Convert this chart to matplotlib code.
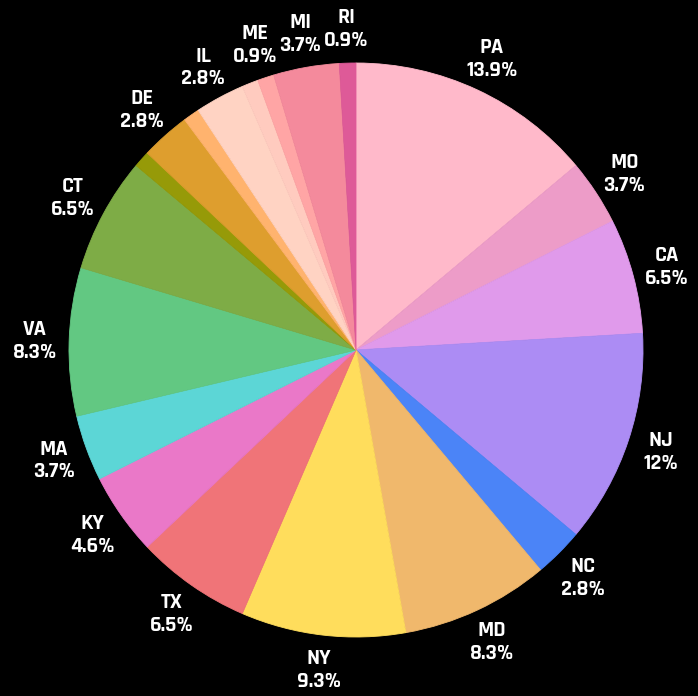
import matplotlib
matplotlib.use("Agg")
import matplotlib.pyplot as plt

states = ["PA", "MO", "CA", "NJ", "NC", "MD", "NY", "TX", "KY", "MA", "VA", "CT",
          "Other A", "DE", "Other B", "IL", "Other C", "ME", "MI", "RI"]
counts = [15, 4, 7, 13, 3, 9, 10, 7, 5, 4, 9, 7, 1, 3, 1, 3, 1, 1, 4, 1]
show_label = [True] * 12 + [False, True, False, True, False, True, True, True]
colors = ["#FFB9CA", "#ED9CC8", "#E09AEB", "#AC8CF4", "#4B84F7", "#F0B86C",
          "#FFDD5C", "#F07478", "#EA78C8", "#5CD6D6", "#62C882", "#7EAC46",
          "#969A08", "#DE9E2E", "#FFB36E", "#FFD3C3", "#FFCBBF", "#FFA5A5",
          "#F48A9C", "#DE5A98"]

total = sum(counts)


def fmt(v):
    p = v / total * 100
    s = f"{p:.1f}"
    if s.endswith(".0"):
        s = s[:-2]
    return s + "%"


labels = [f"{s}\n{fmt(c)}" if sh else "" for s, c, sh in zip(states, counts, show_label)]

fig = plt.figure(figsize=(6.98, 6.96), dpi=100, facecolor="black")
ax = fig.add_axes([0, 0, 1, 1])
ax.set_facecolor("black")

wedges, texts = ax.pie(counts, colors=colors, labels=labels, startangle=90,
                       counterclock=False, labeldistance=1.12,
                       wedgeprops=dict(linewidth=0.6),
                       textprops=dict(color="white", fontsize=16, fontweight="bold",
                                      family=["Rajdhani", "DejaVu Sans"],
                                      linespacing=1.32))
for w, c in zip(wedges, colors):
    w.set_edgecolor(c)
for t in texts:
    t.set_horizontalalignment("center")
    t.set_verticalalignment("center")

ax.set_aspect("auto")
ax.set_xlim(-356 / 287, (698 - 356) / 287)
ax.set_ylim(-346 / 287, (696 - 346) / 287)
ax.axis("off")

fig.savefig("out.png", dpi=100, facecolor="black")
